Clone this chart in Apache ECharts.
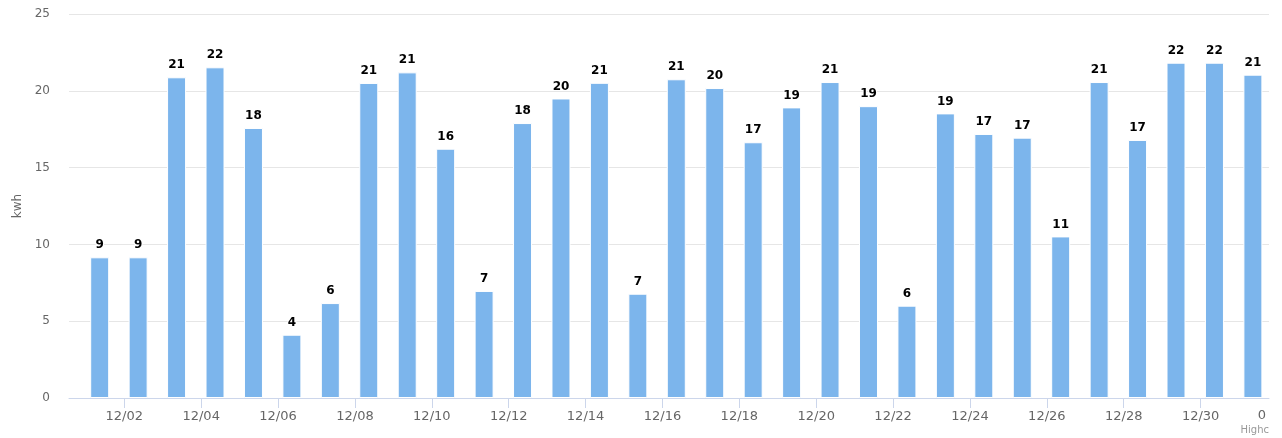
<!DOCTYPE html>
<html>
<head>
<meta charset="utf-8">
<script src="https://cdn.jsdelivr.net/npm/echarts@6/dist/echarts.min.js"></script>
<style>
html,body{margin:0;padding:0;background:#fff;}
#chart{width:1282px;height:438px;}
</style>
</head>
<body>
<div id="chart"></div>
<script>
// Days of December (bar categories)
const days = [1,2,3,4,5,6,7,8,9,10,11,12,13,14,15,16,17,18,19,20,21,22,23,24,25,26,27,28,29,30,31];
// Daily energy (kwh)
const kwh = [9.16,9.16,20.88,21.53,17.58,4.12,6.18,20.51,21.2,16.23,6.97,17.9,19.5,20.52,6.79,20.75,20.18,16.65,18.92,20.57,19.0,6.01,18.53,17.19,16.95,10.52,20.57,16.8,21.83,21.83,21.05];
// X tick days (labelled MM/DD)
const tickDays = [2,4,6,8,10,12,14,16,18,20,22,24,26,28,30];
// Y ticks
const yTicks = [0,5,10,15,20,25];
const yTitle = 'kwh';

const FONT = 'DejaVu Sans';
const barOffset = 0.36; // bars sit part-way into their day on the time axis

const chart = echarts.init(document.getElementById('chart'), null, {renderer:'canvas'});
const pad = n => (n < 10 ? '0' : '') + n;

chart.setOption({
  animation: false,
  backgroundColor: '#ffffff',
  grid: {left: 69, right: 13, top: 14, bottom: 40, containLabel: false},
  xAxis: {
    type: 'value',
    min: 0.5614,
    max: 31.779,
    axisLine: {show: true, lineStyle: {color: '#ccd6eb', width: 1}},
    axisTick: {show: true, length: 10, lineStyle: {color: '#ccd6eb'}, customValues: tickDays},
    axisLabel: {
      customValues: tickDays,
      color: '#666666', fontSize: 13, fontFamily: FONT, margin: 12,
      formatter: v => '12/' + pad(Math.round(v))
    },
    splitLine: {show: false}
  },
  yAxis: {
    type: 'value',
    min: yTicks[0],
    max: yTicks[yTicks.length - 1],
    interval: 5,
    name: yTitle,
    nameLocation: 'middle',
    nameGap: 45,
    nameRotate: 90,
    nameTextStyle: {color: '#666666', fontSize: 12, fontFamily: FONT},
    axisLine: {show: false},
    axisTick: {show: false},
    axisLabel: {color: '#666666', fontSize: 12, fontFamily: FONT, margin: 19},
    splitLine: {lineStyle: {color: '#e6e6e6', width: 1}}
  },
  series: [{
    type: 'bar',
    data: days.map((d, i) => [d + barOffset, kwh[i]]),
    barWidth: 19,
    itemStyle: {color: '#7cb5ec', borderColor: '#ffffff', borderWidth: 1},
    label: {
      show: true,
      position: 'top',
      distance: 6,
      color: '#000000',
      fontSize: 12,
      fontWeight: 'bold',
      fontFamily: FONT,
      textBorderColor: '#ffffff',
      textBorderWidth: 2,
      formatter: p => String(Math.round(p.value[1]))
    }
  }],
  graphic: [
    {type: 'text', right: 16, top: 409, style: {text: '0', fill: '#666666', font: '13px "DejaVu Sans"'}},
    {type: 'text', right: 13, top: 425, style: {text: 'Highc', fill: '#999999', font: '10px "DejaVu Sans"'}}
  ]
});
</script>
</body>
</html>
